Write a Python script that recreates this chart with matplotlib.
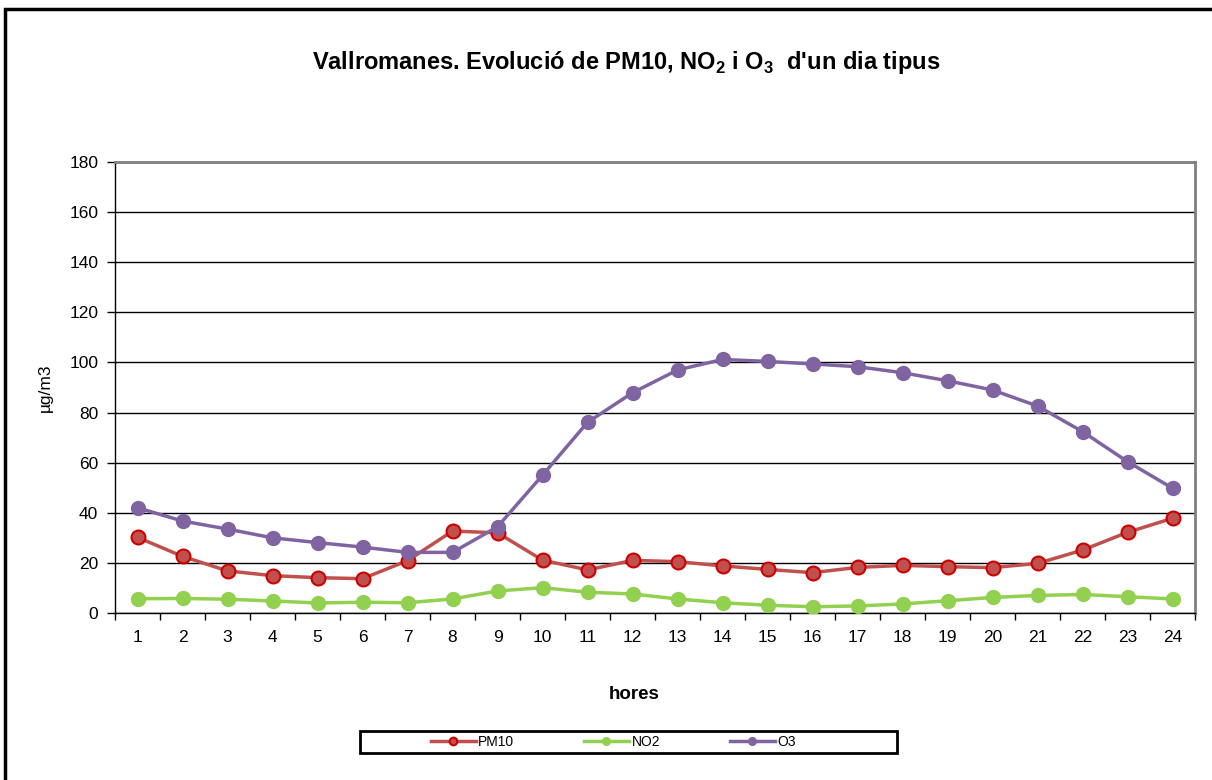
import numpy as np
import matplotlib.pyplot as plt
from matplotlib.patches import Rectangle

plt.rcParams['font.family'] = ['Liberation Sans', 'DejaVu Sans']
plt.rcParams['mathtext.fontset'] = 'custom'
plt.rcParams['mathtext.rm'] = 'Liberation Sans:bold'
plt.rcParams['mathtext.bf'] = 'Liberation Sans:bold'

# dades
hores = list(range(1, 25))
pm10 = [30.2, 22.6, 16.8, 14.9, 14.1, 13.7, 20.9, 32.7, 32.0, 21.1, 17.2, 21.0,
        20.5, 18.8, 17.4, 16.1, 18.2, 19.0, 18.5, 18.1, 19.8, 25.1, 32.2, 37.8]
no2 = [5.7, 5.8, 5.5, 4.8, 4.0, 4.3, 4.1, 5.6, 8.8, 10.1, 8.3, 7.6,
       5.6, 4.1, 3.1, 2.5, 2.8, 3.6, 4.9, 6.2, 7.0, 7.4, 6.5, 5.6]
o3 = [42.0, 36.7, 33.5, 30.0, 28.1, 26.3, 24.2, 24.2, 34.4, 55.0, 76.1, 87.9,
      97.0, 101.2, 100.4, 99.4, 98.3, 95.9, 92.7, 89.0, 82.6, 72.4, 60.4, 49.8]
yticks = list(range(0, 181, 20))

fig = plt.figure(figsize=(12.12, 7.8), dpi=100)
ax = fig.add_axes([0.0949, 0.2141, 0.8911, 0.5782])

ax.plot(hores, pm10, color='#C0504D', lw=2.5, marker='o', ms=10,
        mfc='#C0504D', mec='#CC0000', mew=1.5, label='PM10', zorder=3)
ax.plot(hores, no2, color='#92D050', lw=2.5, marker='o', ms=10,
        mfc='#92D050', mec='#92D050', label='NO2', zorder=3)
ax.plot(hores, o3, color='#8064A2', lw=2.5, marker='o', ms=10,
        mfc='#8064A2', mec='#8064A2', label='O3', zorder=3)

ax.set_xlim(0.5, 24.5)
ax.set_ylim(0, 180)
ax.set_yticks(yticks)
ax.set_xticks(hores)
ax.set_xticks(np.arange(0.5, 25, 1), minor=True)
ax.tick_params(axis='x', which='major', length=0, labelsize=12.5, pad=12)
ax.tick_params(axis='x', which='minor', length=5, width=1, direction='out')
ax.tick_params(axis='y', length=6, width=1, direction='out', labelsize=12.5, pad=6)
ax.grid(axis='y', color='black', lw=1)
ax.set_axisbelow(True)

for s in ['left', 'bottom']:
    ax.spines[s].set_color('black')
    ax.spines[s].set_linewidth(1)
for s in ['right', 'top']:
    ax.spines[s].set_color('#808080')
    ax.spines[s].set_linewidth(2)

ax.set_ylabel('µg/m3', fontsize=12.5)
ax.yaxis.set_label_coords(-0.058, 0.5)
ax.set_xlabel('hores', fontsize=13.5, fontweight='bold')
ax.xaxis.set_label_coords((634 - 115) / 1080, -0.162)

fig.text(0.5165, 0.92, r"Vallromanes. Evolució de PM10, NO$_2$ i O$_3$  d'un dia tipus",
         ha='center', va='center', fontsize=17, fontweight='bold')

# llegenda
leg = fig.legend(loc='center', bbox_to_anchor=(0.506, 0.049), ncol=3, fontsize=10,
                 frameon=False, handlelength=3.24, columnspacing=5.0,
                 borderpad=0.1, handletextpad=0.2)
for h in leg.legend_handles:
    h.set_markersize(5.5)
fig.patches.append(Rectangle((360 / 1212, 1 - 753 / 780), 537 / 1212, 22 / 780,
                             transform=fig.transFigure, fill=False,
                             edgecolor='black', lw=2))

fig.patches.append(Rectangle((0.004, -0.1), 1.1, 1.1 - 9.5 / 780, transform=fig.transFigure,
                             fill=False, edgecolor='black', lw=2.5))

fig.savefig('out.png', dpi=100)
